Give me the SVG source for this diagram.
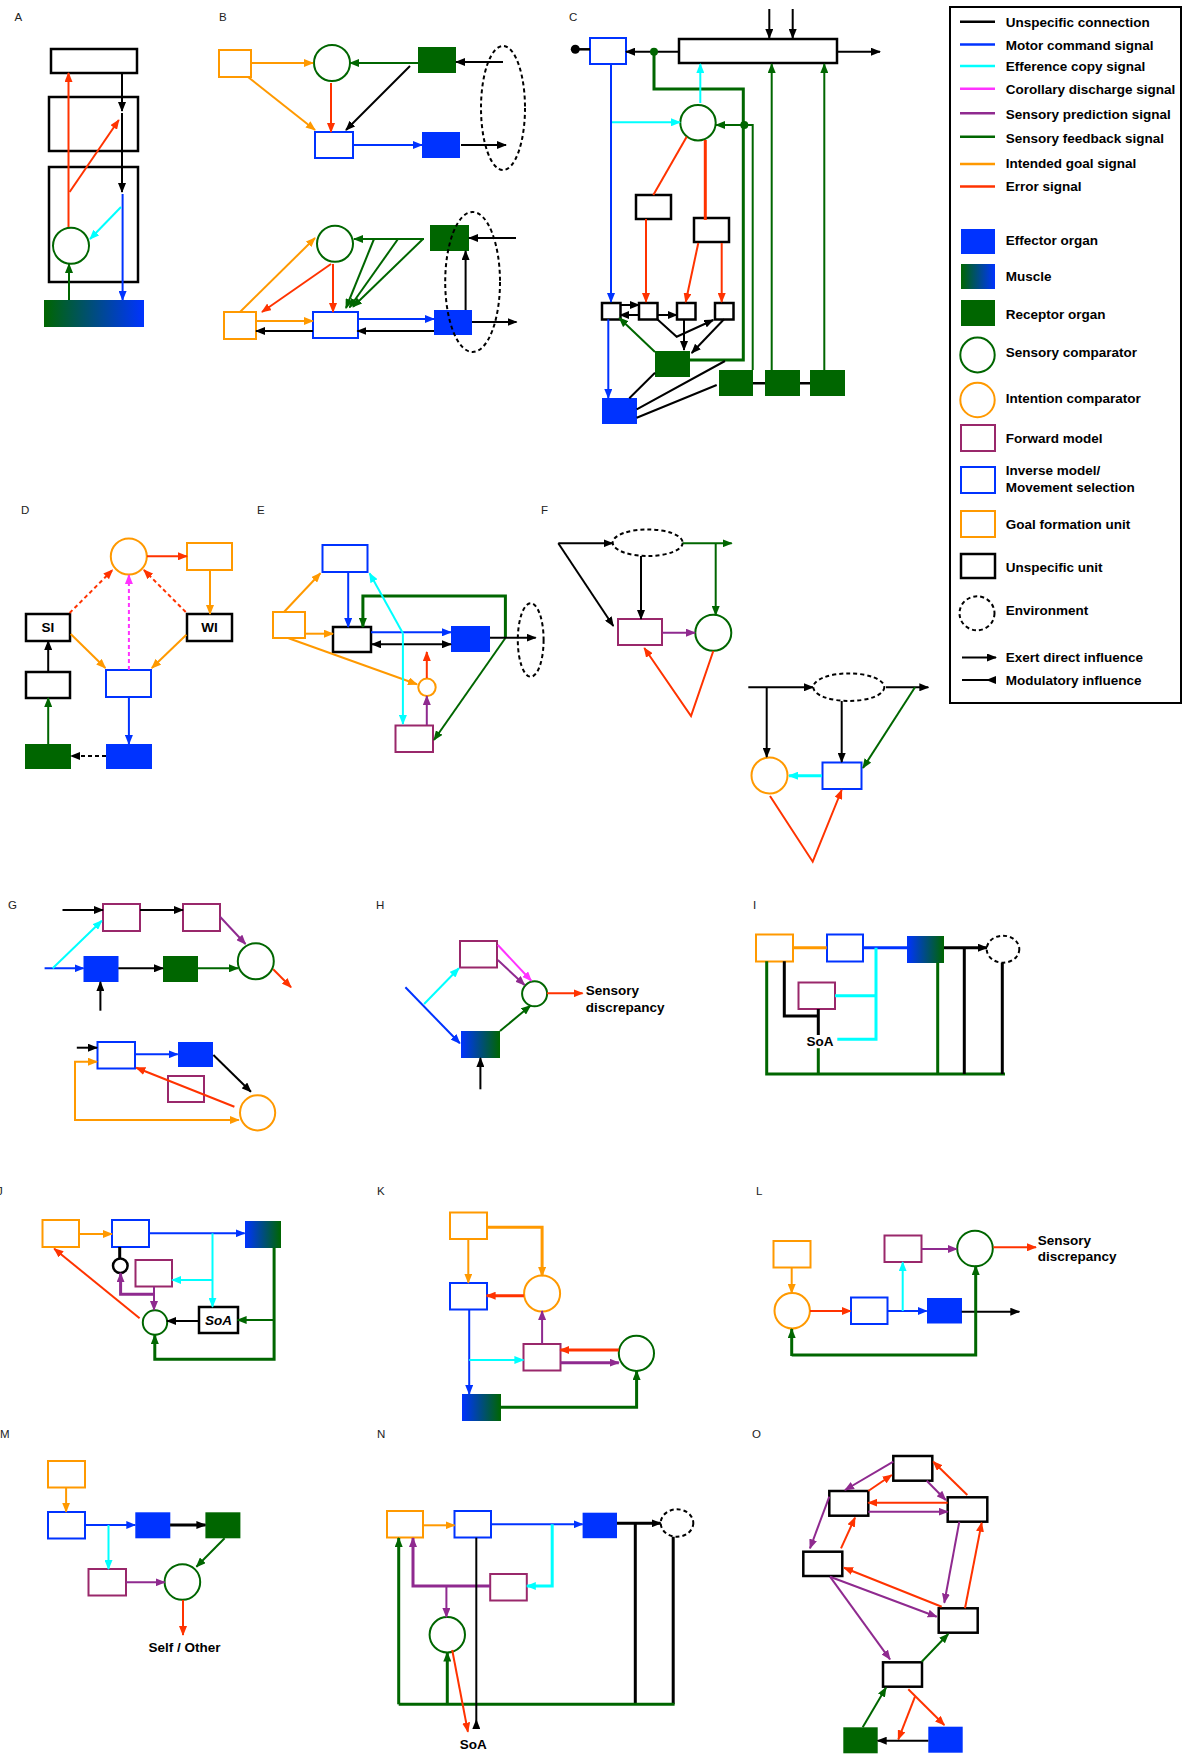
<svg xmlns="http://www.w3.org/2000/svg" width="1183" height="1754" viewBox="0 0 1183 1754">
<style>
.k{stroke:#000}.b{stroke:#0033ff}.c{stroke:#00ffff}.m{stroke:#ff33ff}.p{stroke:#8f2a8f}.g{stroke:#006600}.o{stroke:#ff9900}.r{stroke:#ff3300}
.ak{marker-end:url(#ak)}.ab{marker-end:url(#ab)}.ac{marker-end:url(#ac)}.am{marker-end:url(#am)}.ap{marker-end:url(#ap)}.ag{marker-end:url(#ag)}.ao{marker-end:url(#ao)}.ar{marker-end:url(#ar)}
.w3{stroke-width:3}.d{stroke-dasharray:4 3}
.eff{fill:#0033ff}.rec{fill:#006600}.mgb{fill:url(#ggb)}.mbg{fill:url(#gbg)}
.sc{fill:#fff;stroke:#006600;stroke-width:2}
.ic{fill:#fff;stroke:#ff9900;stroke-width:2}
.fm{fill:#fff;stroke:#99286b;stroke-width:2}
.im{fill:#fff;stroke:#0033ff;stroke-width:2}
.gf{fill:#fff;stroke:#ff9900;stroke-width:2}
.uu{fill:#fff;stroke:#000;stroke-width:2.5}
.un{fill:none;stroke:#000;stroke-width:2.5}
.env{fill:none;stroke:#000;stroke-width:2;stroke-dasharray:4 3}
.lbl{font-family:"Liberation Sans",Arial,sans-serif;font-size:11.5px;fill:#222}
.t{font-family:"Liberation Sans",Arial,sans-serif;font-size:13.5px;font-weight:bold;fill:#000}
</style>
<defs>
<linearGradient id="ggb" x1="0" y1="0" x2="1" y2="0"><stop offset="0" stop-color="#006600"/><stop offset="1" stop-color="#0033ff"/></linearGradient>
<linearGradient id="gbg" x1="0" y1="0" x2="1" y2="0"><stop offset="0" stop-color="#0033ff"/><stop offset="1" stop-color="#006600"/></linearGradient>
<marker id="ak" viewBox="0 0 10 8" refX="9" refY="4" markerWidth="10" markerHeight="8" markerUnits="userSpaceOnUse" orient="auto-start-reverse"><path d="M0,0L10,4L0,8z" fill="#000"/></marker>
<marker id="ab" viewBox="0 0 10 8" refX="9" refY="4" markerWidth="10" markerHeight="8" markerUnits="userSpaceOnUse" orient="auto-start-reverse"><path d="M0,0L10,4L0,8z" fill="#0033ff"/></marker>
<marker id="ac" viewBox="0 0 10 8" refX="9" refY="4" markerWidth="10" markerHeight="8" markerUnits="userSpaceOnUse" orient="auto-start-reverse"><path d="M0,0L10,4L0,8z" fill="#00ffff"/></marker>
<marker id="am" viewBox="0 0 10 8" refX="9" refY="4" markerWidth="10" markerHeight="8" markerUnits="userSpaceOnUse" orient="auto-start-reverse"><path d="M0,0L10,4L0,8z" fill="#ff33ff"/></marker>
<marker id="ap" viewBox="0 0 10 8" refX="9" refY="4" markerWidth="10" markerHeight="8" markerUnits="userSpaceOnUse" orient="auto-start-reverse"><path d="M0,0L10,4L0,8z" fill="#8f2a8f"/></marker>
<marker id="ag" viewBox="0 0 10 8" refX="9" refY="4" markerWidth="10" markerHeight="8" markerUnits="userSpaceOnUse" orient="auto-start-reverse"><path d="M0,0L10,4L0,8z" fill="#006600"/></marker>
<marker id="ao" viewBox="0 0 10 8" refX="9" refY="4" markerWidth="10" markerHeight="8" markerUnits="userSpaceOnUse" orient="auto-start-reverse"><path d="M0,0L10,4L0,8z" fill="#ff9900"/></marker>
<marker id="ar" viewBox="0 0 10 8" refX="9" refY="4" markerWidth="10" markerHeight="8" markerUnits="userSpaceOnUse" orient="auto-start-reverse"><path d="M0,0L10,4L0,8z" fill="#ff3300"/></marker>
<marker id="mod" viewBox="0 0 10 8" refX="10" refY="4" markerWidth="10" markerHeight="8" markerUnits="userSpaceOnUse" orient="auto"><path d="M10,0L10,8L0,4z" fill="#000"/></marker>
</defs>
<rect width="1183" height="1754" fill="#fff"/>

<g id="labels">
<text class="lbl" x="14.5" y="21">A</text>
<text class="lbl" x="219" y="21">B</text>
<text class="lbl" x="569" y="21">C</text>
<text class="lbl" x="21" y="514">D</text>
<text class="lbl" x="257" y="514">E</text>
<text class="lbl" x="541" y="514">F</text>
<text class="lbl" x="8" y="909">G</text>
<text class="lbl" x="376" y="909">H</text>
<text class="lbl" x="753" y="909">I</text>
<text class="lbl" x="-3" y="1195">J</text>
<text class="lbl" x="377" y="1195">K</text>
<text class="lbl" x="756" y="1195">L</text>
<text class="lbl" x="0" y="1438">M</text>
<text class="lbl" x="377" y="1438">N</text>
<text class="lbl" x="752" y="1438">O</text>
</g>

<!-- Panel A nodes -->
<g id="A-top"><rect class="un" x="51" y="49" width="86" height="24"/></g>
<g id="A-mid"><rect class="un" x="49" y="97" width="89" height="54"/></g>
<g id="A-bot"><rect class="un" x="49" y="167" width="89" height="115"/></g>
<g id="A-comp"><circle class="sc" cx="71" cy="245.7" r="18"/></g>
<g id="A-muscle"><rect class="mgb" x="44" y="300" width="100" height="27"/></g>

<!-- Panel B nodes -->
<g id="B1-goal"><rect class="gf" x="219" y="50" width="32" height="27"/></g>
<g id="B1-comp"><circle class="sc" cx="332" cy="63" r="18"/></g>
<g id="B1-rec"><rect class="rec" x="418" y="47" width="38" height="26"/></g>
<g id="B1-inv"><rect class="im" x="315" y="132" width="38" height="26"/></g>
<g id="B1-eff"><rect class="eff" x="422" y="132" width="38" height="26"/></g>
<g id="B1-env"><ellipse class="env" cx="503" cy="108" rx="22" ry="62"/></g>
<g id="B2-comp"><circle class="sc" cx="335" cy="243.7" r="18"/></g>
<g id="B2-rec"><rect class="rec" x="430" y="225" width="39" height="26"/></g>
<g id="B2-goal"><rect class="gf" x="224" y="312" width="32" height="27"/></g>
<g id="B2-inv"><rect class="im" x="313" y="312" width="45" height="26"/></g>
<g id="B2-eff"><rect class="eff" x="434" y="310" width="38" height="25"/></g>
<g id="B2-env"><ellipse class="env" cx="472.6" cy="282" rx="27.4" ry="70"/></g>

<!-- Panel C nodes -->
<g id="C-inv"><rect class="im" x="590" y="38" width="36" height="26"/></g>
<g id="C-long"><rect class="uu" x="679" y="39" width="158" height="24"/></g>
<g id="C-comp"><circle class="sc" cx="698" cy="122.7" r="17.7"/></g>
<g id="C-u1"><rect class="uu" x="636" y="195" width="35" height="24"/></g>
<g id="C-u2"><rect class="uu" x="694" y="218" width="35" height="24"/></g>
<g id="C-s1"><rect class="uu" x="602" y="303" width="18.5" height="16.5"/></g>
<g id="C-s2"><rect class="uu" x="639" y="303" width="18.5" height="16.5"/></g>
<g id="C-s3"><rect class="uu" x="677" y="303" width="18.5" height="16.5"/></g>
<g id="C-s4"><rect class="uu" x="715" y="303" width="18.5" height="16.5"/></g>
<g id="C-recA"><rect class="rec" x="655" y="351" width="35" height="26"/></g>
<g id="C-eff"><rect class="eff" x="602" y="398" width="35" height="26"/></g>
<g id="C-rec1"><rect class="rec" x="719" y="370" width="34" height="26"/></g>
<g id="C-rec2"><rect class="rec" x="765" y="370" width="35" height="26"/></g>
<g id="C-rec3"><rect class="rec" x="810" y="370" width="35" height="26"/></g>

<!-- Panel D nodes -->
<g id="D-ic"><circle class="ic" cx="128.8" cy="556.5" r="18"/></g>
<g id="D-goal"><rect class="gf" x="187" y="543" width="45" height="27"/></g>
<g id="D-SI"><rect class="uu" x="26" y="614" width="44" height="27"/><text class="t" x="48" y="632" text-anchor="middle">SI</text></g>
<g id="D-WI"><rect class="uu" x="187" y="614" width="45" height="27"/><text class="t" x="209.5" y="632" text-anchor="middle">WI</text></g>
<g id="D-u"><rect class="uu" x="26" y="672" width="44" height="26"/></g>
<g id="D-rec"><rect class="rec" x="25" y="744" width="46" height="25"/></g>
<g id="D-inv"><rect class="im" x="106" y="670" width="45" height="27"/></g>
<g id="D-eff"><rect class="eff" x="106" y="744" width="46" height="25"/></g>

<!-- Panel E nodes -->
<g id="E-inv"><rect class="im" x="322.5" y="545" width="45" height="27"/></g>
<g id="E-goal"><rect class="gf" x="273" y="612" width="32" height="26"/></g>
<g id="E-u"><rect class="uu" x="333" y="627" width="38" height="25"/></g>
<g id="E-eff"><rect class="eff" x="451" y="626" width="39" height="26"/></g>
<g id="E-env"><ellipse class="env" cx="530.7" cy="640" rx="12.9" ry="36.7"/></g>
<g id="E-ic"><circle class="ic" cx="427" cy="687.3" r="8.7"/></g>
<g id="E-fm"><rect class="fm" x="395.5" y="725.5" width="37.5" height="26.5"/></g>

<!-- Panel F nodes -->
<g id="F1-env"><ellipse class="env" cx="647.7" cy="542.7" rx="35" ry="13.3"/></g>
<g id="F1-fm"><rect class="fm" x="618" y="619" width="44" height="26"/></g>
<g id="F1-comp"><circle class="sc" cx="713.3" cy="632.8" r="18"/></g>
<g id="F2-env"><ellipse class="env" cx="848.8" cy="687.2" rx="35.5" ry="13.8"/></g>
<g id="F2-ic"><circle class="ic" cx="769.5" cy="775.5" r="18"/></g>
<g id="F2-inv"><rect class="im" x="822.5" y="762.5" width="39" height="26.5"/></g>

<!-- Panel G nodes -->
<g id="G1-fm1"><rect class="fm" x="103" y="904" width="37" height="27"/></g>
<g id="G1-fm2"><rect class="fm" x="183" y="904" width="37" height="27"/></g>
<g id="G1-eff"><rect class="eff" x="83.5" y="956" width="35" height="26"/></g>
<g id="G1-rec"><rect class="rec" x="163" y="956" width="35" height="26"/></g>
<g id="G1-comp"><circle class="sc" cx="255.8" cy="961.3" r="18"/></g>
<g id="G2-inv"><rect class="im" x="97.5" y="1042" width="37.5" height="26.5"/></g>
<g id="G2-eff"><rect class="eff" x="178" y="1042" width="35" height="25"/></g>
<g id="G2-fm"><rect class="fm" x="168" y="1076" width="36" height="26"/></g>
<g id="G2-ic"><circle class="ic" cx="257.6" cy="1112.8" r="17.6"/></g>

<!-- Panel H nodes -->
<g id="H-fm"><rect class="fm" x="460" y="941" width="37" height="26.5"/></g>
<g id="H-comp"><circle class="sc" cx="534.6" cy="993.8" r="12.5"/></g>
<g id="H-mus"><rect class="mbg" x="461" y="1031" width="39" height="27"/></g>

<!-- Panel I nodes -->
<g id="I-goal"><rect class="gf" x="756" y="934.5" width="37" height="27"/></g>
<g id="I-inv"><rect class="im" x="827" y="934.5" width="36" height="27"/></g>
<g id="I-mus"><rect class="mbg" x="907" y="936" width="37" height="27"/></g>
<g id="I-env"><ellipse class="env" cx="1003" cy="949.2" rx="16.3" ry="13.5"/></g>
<g id="I-fm"><rect class="fm" x="798.5" y="982.5" width="36.5" height="26.5"/></g>
<g id="I-soa"><text class="t" x="820" y="1045.5" text-anchor="middle">SoA</text></g>

<!-- Panel J nodes -->
<g id="J-goal"><rect class="gf" x="42.5" y="1220" width="36.5" height="27"/></g>
<g id="J-inv"><rect class="im" x="112" y="1220" width="37" height="27"/></g>
<g id="J-mus"><rect class="mbg" x="245" y="1221" width="36" height="27"/></g>
<g id="J-knob"><circle cx="120.3" cy="1265.8" r="7.3" fill="#fff" stroke="#000" stroke-width="2.5"/></g>
<g id="J-fm"><rect class="fm" x="135.5" y="1260" width="36.5" height="26.5"/></g>
<g id="J-comp"><circle class="sc" cx="155" cy="1322.5" r="12.2"/></g>
<g id="J-soa"><rect class="uu" x="199" y="1307" width="39" height="26"/><text class="t" x="218.5" y="1325" text-anchor="middle" font-style="italic">SoA</text></g>

<!-- Panel K nodes -->
<g id="K-goal"><rect class="gf" x="450" y="1212.5" width="37" height="26.5"/></g>
<g id="K-ic"><circle class="ic" cx="542.1" cy="1293.5" r="18"/></g>
<g id="K-inv"><rect class="im" x="450" y="1283" width="37" height="26.5"/></g>
<g id="K-fm"><rect class="fm" x="523.5" y="1344" width="37" height="26.5"/></g>
<g id="K-comp"><circle class="sc" cx="636.4" cy="1353.3" r="17.6"/></g>
<g id="K-mus"><rect class="mbg" x="462" y="1394" width="39" height="27"/></g>

<!-- Panel L nodes -->
<g id="L-goal"><rect class="gf" x="773.5" y="1241" width="37" height="26.5"/></g>
<g id="L-ic"><circle class="ic" cx="792.2" cy="1310.8" r="17.7"/></g>
<g id="L-inv"><rect class="im" x="851" y="1297.5" width="36.5" height="26.5"/></g>
<g id="L-eff"><rect class="eff" x="927" y="1298" width="35" height="25.5"/></g>
<g id="L-fm"><rect class="fm" x="884.5" y="1235.5" width="37" height="26.5"/></g>
<g id="L-comp"><circle class="sc" cx="975" cy="1248.5" r="17.8"/></g>
<g id="L-text"><text class="t" x="1037.7" y="1245">Sensory</text><text class="t" x="1037.7" y="1261">discrepancy</text></g>

<!-- Panel M nodes -->
<g id="M-goal"><rect class="gf" x="48" y="1461" width="37" height="26.5"/></g>
<g id="M-inv"><rect class="im" x="48" y="1512" width="37" height="26.5"/></g>
<g id="M-eff"><rect class="eff" x="135.3" y="1512.3" width="35" height="26"/></g>
<g id="M-rec"><rect class="rec" x="205.4" y="1512.3" width="35" height="26"/></g>
<g id="M-fm"><rect class="fm" x="88.5" y="1569" width="37.5" height="26.5"/></g>
<g id="M-comp"><circle class="sc" cx="182.4" cy="1582" r="17.8"/></g>
<g id="M-text"><text class="t" x="184.4" y="1652" text-anchor="middle">Self / Other</text></g>

<!-- Panel N nodes -->
<g id="N-goal"><rect class="gf" x="387" y="1511" width="36" height="26.5"/></g>
<g id="N-inv"><rect class="im" x="454.5" y="1511" width="36.5" height="26.5"/></g>
<g id="N-eff"><rect class="eff" x="582.6" y="1512.7" width="34.4" height="25.5"/></g>
<g id="N-env"><ellipse class="env" cx="677" cy="1523" rx="16.3" ry="13.7"/></g>
<g id="N-fm"><rect class="fm" x="490.2" y="1574" width="36.6" height="26.5"/></g>
<g id="N-comp"><circle class="sc" cx="447.3" cy="1634.8" r="17.7"/></g>
<g id="N-soa"><text class="t" x="473.2" y="1749" text-anchor="middle">SoA</text></g>

<!-- Panel O nodes -->
<g id="O-1"><rect class="uu" x="893.3" y="1456" width="39" height="24.7"/></g>
<g id="O-2"><rect class="uu" x="829.3" y="1491" width="39" height="24.7"/></g>
<g id="O-3"><rect class="uu" x="947.7" y="1497.3" width="39.6" height="24.4"/></g>
<g id="O-4"><rect class="uu" x="803.3" y="1551.7" width="39" height="24.3"/></g>
<g id="O-5"><rect class="uu" x="938.7" y="1608.3" width="39" height="24.4"/></g>
<g id="O-6"><rect class="uu" x="883" y="1662.3" width="39" height="24.4"/></g>
<g id="O-rec"><rect class="rec" x="843.3" y="1727.3" width="34.4" height="26"/></g>
<g id="O-eff"><rect class="eff" x="928.3" y="1726.7" width="34.4" height="26"/></g>

<!-- Legend -->
<g id="legend">
<rect x="950" y="7" width="231" height="696" fill="none" stroke="#000" stroke-width="2"/>
<g stroke-width="2.5">
<line x1="960" y1="21.7" x2="995" y2="21.7" class="k"/>
<line x1="960" y1="44.6" x2="995" y2="44.6" class="b"/>
<line x1="960" y1="66.1" x2="995" y2="66.1" class="c"/>
<line x1="960" y1="88.7" x2="995" y2="88.7" class="m"/>
<line x1="960" y1="113.2" x2="995" y2="113.2" class="p"/>
<line x1="960" y1="136.7" x2="995" y2="136.7" class="g"/>
<line x1="960" y1="163.9" x2="995" y2="163.9" class="o"/>
<line x1="960" y1="186.6" x2="995" y2="186.6" class="r"/>
</g>
<rect class="eff" x="961" y="229" width="34" height="25"/>
<rect class="mgb" x="961" y="264" width="34" height="25"/>
<rect class="rec" x="961" y="300" width="34" height="26"/>
<ellipse class="sc" cx="977.5" cy="355" rx="17.2" ry="17.4"/>
<ellipse class="ic" cx="977.5" cy="400" rx="17.2" ry="17.2"/>
<rect class="fm" x="961" y="425" width="34" height="26"/>
<rect class="im" x="961" y="467" width="34" height="26"/>
<rect class="gf" x="961" y="511" width="34" height="26"/>
<rect class="uu" x="961" y="554" width="34" height="24"/>
<ellipse class="env" cx="977" cy="613.3" rx="17.5" ry="17"/>
<path d="M962,657.5L996,657.5" fill="none" stroke="#000" stroke-width="2" marker-end="url(#ak)"/>
<path d="M962,680L996,680" fill="none" stroke="#000" stroke-width="2" marker-end="url(#mod)"/>
<g class="t">
<text x="1005.7" y="26.5">Unspecific connection</text>
<text x="1005.7" y="49.8">Motor command signal</text>
<text x="1005.7" y="70.9">Efference copy signal</text>
<text x="1005.7" y="93.5">Corollary discharge signal</text>
<text x="1005.7" y="118.5">Sensory prediction signal</text>
<text x="1005.7" y="142.5">Sensory feedback signal</text>
<text x="1005.7" y="168">Intended goal signal</text>
<text x="1005.7" y="191.4">Error signal</text>
<text x="1005.7" y="245">Effector organ</text>
<text x="1005.7" y="281">Muscle</text>
<text x="1005.7" y="318.6">Receptor organ</text>
<text x="1005.7" y="356.6">Sensory comparator</text>
<text x="1005.7" y="403.3">Intention comparator</text>
<text x="1005.7" y="443">Forward model</text>
<text x="1005.7" y="474.8">Inverse model/</text>
<text x="1005.7" y="492">Movement selection</text>
<text x="1005.7" y="528.7">Goal formation unit</text>
<text x="1005.7" y="572.2">Unspecific unit</text>
<text x="1005.7" y="615.2">Environment</text>
<text x="1005.7" y="662.3">Exert direct influence</text>
<text x="1005.7" y="684.8">Modulatory influence</text>
</g>
</g>

<g id="connectors" fill="none" stroke-width="2">
<!-- A -->
<path class="g ag" d="M69,300L69,264"/>
<path class="r ar" d="M68.5,227L68.5,73"/>
<path class="r ar" d="M69.6,192L118.8,120"/>
<path class="k ak" d="M122,73L122,111"/>
<path class="k ak" d="M122,113L122,192"/>
<path class="b ab" d="M122.6,194L122.6,300"/>
<path class="c ac" d="M121,207L90,239"/>
<!-- B top -->
<path class="o ao" d="M251,63L313,63"/>
<path class="o ao" d="M248,77L315,130"/>
<path class="g ag" d="M418,63L350,63"/>
<path class="k ak" d="M410,66L346,130"/>
<path class="r ar" d="M331,83L331,132"/>
<path class="k ak" d="M503,62L456,62"/>
<path class="b ab" d="M353,145L422,145"/>
<path class="k ak" d="M461,145L506,145"/>
<!-- B bottom -->
<path class="g ag" d="M424,239L354,239"/>
<path class="g ag" d="M374,239L346,308"/>
<path class="g ag" d="M398,239L349.5,307.5"/>
<path class="g ag" d="M423,239L353,306.7"/>
<path class="o ao" d="M240,312L315,238"/>
<path class="r ar" d="M331,264L262,312"/>
<path class="r ar" d="M333,264L333,312"/>
<path class="o ao" d="M256,321L313,321"/>
<path class="k ak" d="M313,331L256,331"/>
<path class="b ab" d="M357.4,319L434,319"/>
<path class="k ak" d="M434,331L357.4,331"/>
<path class="k ak" d="M465.6,310L465.6,251"/>
<path class="k ak" d="M516,238L469,238"/>
<path class="k ak" d="M472,322L516.5,322"/>
<!-- C -->
<path class="k" stroke-width="2.5" d="M575,49.3L590,49.3"/>
<circle cx="575.3" cy="49.3" r="4.5" fill="#000" stroke="none"/>
<path class="k ak" d="M679,51.7L626,51.7"/>
<path class="k ak" d="M769.3,9L769.3,38"/>
<path class="k ak" d="M792.7,9L792.7,38"/>
<path class="k ak" d="M837,51.7L880,51.7"/>
<path class="g w3" d="M690,360L743.3,360L743.3,89L654,89L654,51.7"/>
<circle cx="654" cy="51.7" r="4" fill="#006600" stroke="none"/>
<path class="c ac" d="M700.3,103L700.3,64"/>
<path class="c ac" d="M611,122.3L680,122.3"/>
<path class="b ab" d="M611,64.3L611,302"/>
<path class="g ag" d="M752.7,370L752.7,125L716,125"/>
<circle cx="744.3" cy="125" r="4" fill="#006600" stroke="none"/>
<path class="g ag" d="M771.7,370L771.7,64"/>
<path class="g ag" d="M824.3,370L824.3,64"/>
<path class="k" stroke-width="2.5" d="M753,383.3L765,383.3M800,383.3L810,383.3"/>
<path class="r" d="M686.7,136.7L653.3,195"/>
<path class="r w3" d="M705.3,140L705.3,220"/>
<path class="r ar" d="M646,219L646,302"/>
<path class="r ar" d="M698.3,243L685.7,302"/>
<path class="r ar" d="M721.7,243L721.7,302"/>
<path class="k ak" d="M620.3,305L639,305"/>
<path class="k ak" d="M639,315L620.3,315"/>
<path class="k ak" d="M657.3,315L676.7,315"/>
<path class="k ak" d="M657.3,319.3L676.7,336.7L713.3,320"/>
<path class="k ak" d="M684,319.3L684,350"/>
<path class="k ak" d="M724,319.3L691.7,353"/>
<path class="g ag" d="M655,352L619.3,318"/>
<path class="b ab" d="M608.3,319.3L608.3,398"/>
<path class="k" d="M629.3,398.3L655,372.7M636.7,409.3L725,361M636.7,417.7L716.7,385"/>
<!-- D -->
<path class="r ar" d="M147,556.3L187,556.3"/>
<path class="o ao" d="M210,570L210,614"/>
<path class="k ak" d="M48.2,672L48.2,641"/>
<path class="g ag" d="M48.2,744L48.2,698"/>
<path class="b ab" d="M128.9,697L128.9,744"/>
<path class="k ak d" d="M106,756L71,756"/>
<path class="r ar d" d="M69.6,613L112.5,570"/>
<path class="r ar d" d="M185.7,612L143.9,570"/>
<path class="m am d" d="M128.9,670L128.9,575"/>
<path class="o ao" d="M70.7,634L105.4,668"/>
<path class="o ao" d="M186.4,634.7L151.8,668"/>
<!-- E -->
<path class="o ao" d="M284,612L320.4,573.3"/>
<path class="o ao" d="M305,633.7L333,633.7"/>
<path class="o ao" d="M288.6,638.3L417,684.3"/>
<path class="b ab" d="M348.2,572L348.2,627"/>
<path class="g ag w3" d="M505.4,638L505.4,596L362.9,596L362.9,627"/>
<path class="g ag" d="M505.4,638L434,740"/>
<path class="b ab" d="M371,632.3L451,632.3"/>
<path class="k ak" marker-start="url(#ak)" d="M372,644.3L451,644.3"/>
<path class="k ak" d="M490,637.7L535.7,637.7"/>
<path class="c ac" d="M402.9,633.3L369.6,573.3"/>
<path class="c ac" d="M402.9,633.3L402.9,724"/>
<path class="r ar" d="M426.8,678L426.8,652"/>
<path class="p ap" d="M426.8,725L426.8,696"/>
<!-- F -->
<path class="k ak" d="M558.3,543.3L612.5,543.3"/>
<path class="k ak" d="M558.3,543.3L613.3,626"/>
<path class="k ak" d="M641,556L641,619"/>
<path class="g ag" d="M682.7,543.3L731.7,543.3"/>
<path class="g ag" d="M715.7,543.3L715.7,615"/>
<path class="p ap" d="M662.3,632.7L695,632.7"/>
<path class="r ar" d="M713.3,651L691,716L644.3,648"/>
<path class="k ak" d="M748.3,687.3L813,687.3"/>
<path class="k ak" d="M766.7,687.3L766.7,757"/>
<path class="k ak" d="M886,687.3L928.3,687.3"/>
<path class="g ag" d="M915,687.3L863,768"/>
<path class="k ak" d="M841.7,701L841.7,762"/>
<path class="c ac w3" d="M822,775.7L789,775.7"/>
<path class="r ar" d="M770,796L812.7,861.7L841.7,790"/>
<!-- G -->
<path class="k ak" d="M62.5,910L103,910"/>
<path class="k ak" d="M140,910L183,910"/>
<path class="p ap" d="M220,916.7L245.5,944"/>
<path class="b ab" d="M44.6,968.3L83.5,968.3"/>
<path class="c ac" d="M52.7,968.3L101.8,920.7"/>
<path class="k ak" d="M118.3,968.3L163,968.3"/>
<path class="g ag" d="M197.8,968.3L238,968.3"/>
<path class="k ak" d="M100.4,1010.7L100.4,982"/>
<path class="r ar" d="M273.2,969.3L291,987.3"/>
<path class="k ak" d="M76.8,1047.7L97,1047.7"/>
<path class="b ab" d="M134.8,1054.3L177.7,1054.3"/>
<path class="k ak" d="M213.4,1055L250.9,1091.7"/>
<path class="r ar" d="M234.4,1106.7L136.2,1067.7"/>
<path class="o ao" d="M75,1120L238.8,1120"/>
<path class="o ao" d="M75,1121L75,1061.7L97,1061.7"/>
<!-- H -->
<path class="b ab" d="M405.4,987.3L459.8,1043.3"/>
<path class="c ac" d="M424.1,1004L458.9,968.3"/>
<path class="m am" d="M497.8,945L531.3,980.7"/>
<path class="p ap" d="M497.8,960L524.6,985"/>
<path class="g ag" d="M500,1031L530.4,1005.7"/>
<path class="r ar" d="M547,993.3L582.6,993.3"/>
<path class="k ak" d="M480.4,1089.3L480.4,1058"/>
<!-- I -->
<path class="o w3" d="M792.7,947.7L826.7,947.7"/>
<path class="b w3" d="M863.3,947.7L907.3,947.7"/>
<path class="k ak w3" d="M944,947.7L987,947.7"/>
<path class="c w3" d="M876,947.7L876,1039.3L837.3,1039.3M876,995.7L835,995.7"/>
<path class="k w3" d="M784.3,961.3L784.3,1016L818.3,1016M818.3,1009L818.3,1035"/>
<path class="g w3" d="M818.3,1048.3L818.3,1074M766.7,961.3L766.7,1074L1005,1074M937.7,962.7L937.7,1074"/>
<path class="k w3" d="M964.3,947.7L964.3,1074M1002.3,962.7L1002.3,1074"/>
<!-- J -->
<path class="o ao" d="M78.9,1234L112,1234"/>
<path class="b ab" d="M149.2,1233.3L244.6,1233.3"/>
<path class="c ac" d="M212.5,1233.3L212.5,1306.7"/>
<path class="c ac" d="M212.5,1280L172.2,1280"/>
<path class="p ap" d="M154,1286.7L154,1310"/>
<path class="p ap w3" d="M154,1294.3L120.6,1294.3L120.6,1273.3"/>
<path class="k ak" d="M199,1321L167,1321"/>
<path class="g ag w3" d="M274.1,1247.7L274.1,1359.3L154.8,1359.3L154.8,1335"/>
<path class="g ag" d="M274.1,1320L237.6,1320"/>
<path class="r ar" d="M139.6,1318.3L54.2,1248.7"/>
<path class="k w3" d="M119.7,1247L119.7,1258.5"/>
<!-- K -->
<path class="o ao" d="M468.3,1239L468.3,1282.7"/>
<path class="o ao w3" d="M486.6,1227.3L542.1,1227.3L542.1,1276"/>
<path class="r ar w3" d="M523.9,1295.7L486.6,1295.7"/>
<path class="b ab" d="M469.2,1309.3L469.2,1394"/>
<path class="c ac" d="M469.2,1360L523.4,1360"/>
<path class="p ap" d="M542.1,1343.7L542.1,1311"/>
<path class="r ar w3" d="M618.8,1350L560.3,1350"/>
<path class="p ap w3" d="M560.3,1362.7L618.8,1362.7"/>
<path class="g ag w3" d="M500.9,1407.3L636.6,1407.3L636.6,1371"/>
<!-- L -->
<path class="o ao" d="M791.7,1267.7L791.7,1293"/>
<path class="r ar" d="M810,1311L850.7,1311"/>
<path class="b ab" d="M887.3,1311L926.7,1311"/>
<path class="c ac" d="M902.7,1311L902.7,1262.3"/>
<path class="p ap" d="M921.7,1249L956.7,1249"/>
<path class="r ar" d="M993.3,1247.3L1036,1247.3"/>
<path class="k ak" d="M961.7,1311.7L1019.3,1311.7"/>
<path class="g ag w3" d="M791.7,1356L791.7,1329"/>
<path class="g ag w3" d="M791.7,1355L975.7,1355L975.7,1266"/>
<!-- M -->
<path class="o ao" d="M66.1,1487.7L66.1,1511.7"/>
<path class="b ab" d="M84.8,1525L135.3,1525"/>
<path class="k ak w3" d="M170.1,1525L205.4,1525"/>
<path class="c ac" d="M108.5,1525L108.5,1569"/>
<path class="p ap" d="M125.9,1582.3L164.7,1582.3"/>
<path class="g ag" d="M224.6,1538.3L196.4,1566.7"/>
<path class="r ar" d="M183,1600L183,1635"/>
<!-- N -->
<path class="o ao" d="M423.2,1525.3L454.5,1525.3"/>
<path class="b ab" d="M491.1,1524.3L582.6,1524.3"/>
<path class="c ac w3" d="M552.2,1524.3L552.2,1586L526.8,1586"/>
<path class="k ak w3" d="M617,1523.3L660.7,1523.3"/>
<path class="k w3" d="M635.3,1523.3L635.3,1704.3M673.2,1536.7L673.2,1704.3"/>
<path class="g w3" d="M398.7,1704.3L674.6,1704.3"/>
<path class="g ag w3" d="M398.7,1704.3L398.7,1538"/>
<path class="g ag w3" d="M447.3,1704.3L447.3,1652.5"/>
<path class="p ap w3" d="M490.2,1586L413,1586L413,1538"/>
<path class="p ap" d="M446.4,1586L446.4,1617"/>
<path class="k" marker-end="url(#mod)" d="M476.3,1537.7L476.3,1729"/>
<path class="r ar" d="M452.2,1650L467.9,1731.7"/>
<!-- O -->
<path class="p ap" d="M893.3,1461.7L845,1490"/>
<path class="r ar" d="M868.3,1491L891.7,1475"/>
<path class="p ap" d="M926.7,1480.7L945.7,1500"/>
<path class="r ar" d="M967.3,1495L933.3,1461.7"/>
<path class="r ar" d="M947.7,1502.7L868.3,1502.7"/>
<path class="p ap" d="M868.3,1511.7L947.7,1511.7"/>
<path class="p ap" d="M829.3,1496.7L810,1548.3"/>
<path class="r ar" d="M841,1548.3L855,1517.7"/>
<path class="r ar" d="M941.7,1606.7L844,1567.7"/>
<path class="p ap" d="M830,1576.7L936.7,1616.7"/>
<path class="p ap" d="M830,1576.7L890,1659.3"/>
<path class="p ap" d="M959.3,1521.7L944.3,1602.7"/>
<path class="r ar" d="M965,1608.3L981.7,1522.7"/>
<path class="g ag" d="M921.7,1661.7L948.3,1634"/>
<path class="g ag" d="M862.7,1727.3L886,1687.7"/>
<path class="r ar" d="M908.3,1689.3L944.3,1725"/>
<path class="r ar" d="M915,1696.7L898.3,1739.3"/>
<path class="k ak" d="M928.3,1740.7L877.7,1740.7"/>
</g>

<g id="H-text"><text class="t" x="585.7" y="995">Sensory</text><text class="t" x="585.7" y="1011.5">discrepancy</text></g>
</svg>
